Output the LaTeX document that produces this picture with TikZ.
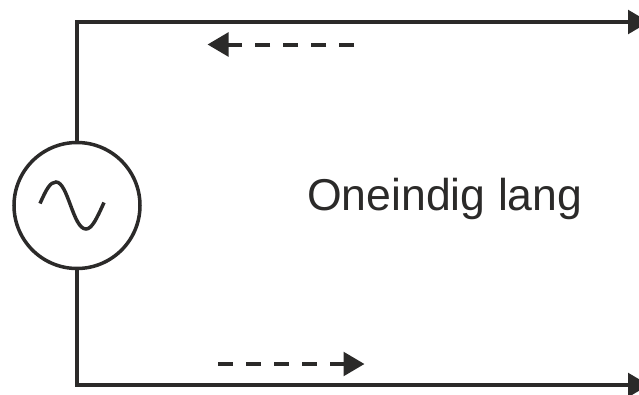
\documentclass[tikz,border=0pt]{standalone}
\usepackage{fontspec}
\setmainfont{Liberation Sans}
\usetikzlibrary{arrows.meta}
\definecolor{ink}{HTML}{2B2A29}
\tikzset{
  wire/.style={draw=ink,line width=4pt,miter limit=10,-{Triangle[length=21pt,width=23.5pt,fill=ink]}},
  flow/.style={wire,dash pattern=on 15pt off 13pt},
  source/.style={circle,draw=ink,line width=3.5pt,minimum size=126pt,inner sep=0pt,outer sep=0pt},
  wave/.style={draw=ink,line width=3.5pt,line cap=butt},
  caption/.style={text=ink,font=\fontsize{44.6pt}{48pt}\selectfont,inner sep=0pt,anchor=base west}
}
\begin{document}
\begin{tikzpicture}[x=1pt,y=-1pt]
\useasboundingbox (0,0) rectangle (639,394);
\clip (0,0) rectangle (639,394);
\fill[white] (0,0) rectangle (639,394);
\node[source] (src) at (77,205.5) {};
\coordinate (tcorner) at (76.5,22);
\coordinate (tend) at (649,22);
\coordinate (bcorner) at (76.5,385);
\coordinate (bend) at (649,385);
\coordinate (ts) at (354,44.5);
\coordinate (te) at (207.5,44.5);
\coordinate (bs) at (218,364);
\coordinate (be) at (364.5,364);
\draw[wire] (src.north -| tcorner) -- (tcorner) -- (tend);
\draw[wire] (src.south -| bcorner) -- (bcorner) -- (bend);
\draw[flow] (ts) -- (te);
\draw[flow] (bs) -- (be);
\draw[wave] (40,203.5) .. controls (46,190) and (50,182) .. (56,182)
  .. controls (68,182) and (73,229) .. (86,229)
  .. controls (92,229) and (97,218) .. (104,202.5);
\node[caption] (label) at (307,210.5) {Oneindig lang};
\end{tikzpicture}
\end{document}
